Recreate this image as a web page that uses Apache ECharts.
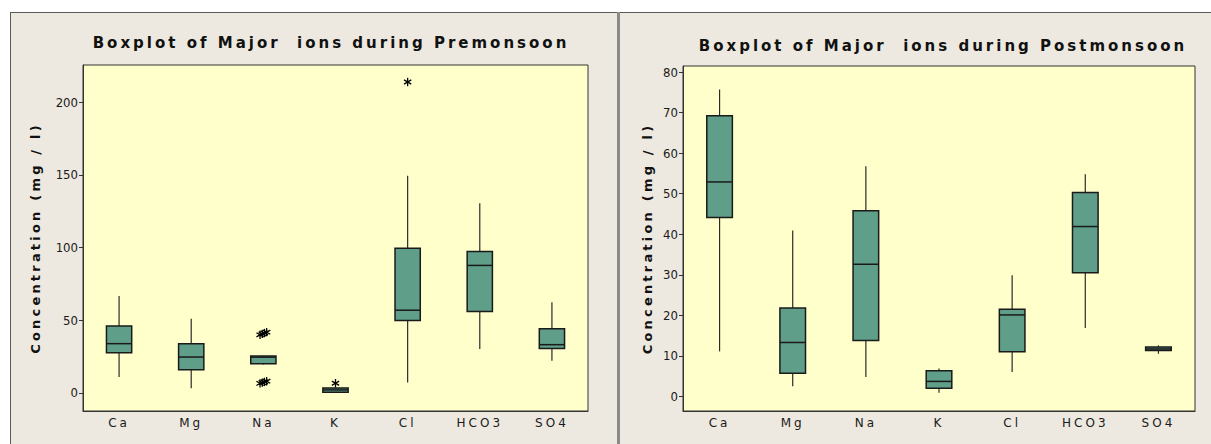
<!DOCTYPE html>
<html>
<head>
<meta charset="utf-8">
<script src="https://cdn.jsdelivr.net/npm/echarts@6/dist/echarts.min.js"></script>
<style>
  html, body { margin: 0; padding: 0; background: #ffffff; }
  #wrap { position: relative; width: 1211px; height: 444px; overflow: hidden; }
  .panel { position: absolute; top: 12px; height: 432px; background: #EDE9E0; border-top: 1px solid #5a5a5a; }
  #pl { left: 10px; width: 607px; border-left: 1px solid #5a5a5a; }
  #sep { position: absolute; left: 617px; top: 12px; width: 3px; height: 432px; background: #8a8a8a; }
  #pr { left: 620px; width: 591px; }
  .chart { position: absolute; top: 0; height: 444px; }
  #cl { left: 0; width: 617px; }
  #cr { left: 619px; width: 592px; }
  .chart text[style*="Verdana"], .chart text[font-family*="Verdana"] { letter-spacing: 3px; }
  .chart text[style*="Tahoma"], .chart text[font-family*="Tahoma"] { letter-spacing: 3.2px; }
</style>
</head>
<body>
<div id="wrap">
  <div class="panel" id="pl"></div>
  <div id="sep"></div>
  <div class="panel" id="pr"></div>
  <div class="chart" id="cl"></div>
  <div class="chart" id="cr"></div>
</div>
<script>
// ---------- data ----------
const categories = ['Ca', 'Mg', 'Na', 'K', 'Cl', 'HCO3', 'SO4'];

// Premonsoon (mg/l)
const preMin    = [10.9,  3.3, 19.5, 0.0,   7.2, 30.2, 22.1];
const preQ1     = [27.7, 15.9, 20.1, 0.5,  49.8, 56.0, 30.6];
const preMedian = [33.9, 24.7, 24.6, 2.1,  56.9, 87.7, 33.2];
const preQ3     = [46.1, 33.9, 25.4, 3.5,  99.5, 97.2, 44.2];
const preMax    = [66.6, 51.1, 25.6, 3.5, 149.4, 130.5, 62.4];
const preOutlierCats   = [2, 2, 2, 2, 2, 2, 2, 2, 3, 4];
const preOutlierValues = [40.0, 40.6, 41.2, 41.8, 6.6, 7.1, 7.6, 8.1, 6.7, 213.8];

// Postmonsoon (mg/l)
const postMin    = [11.1,  2.5,  4.8, 0.9,  6.0, 16.9, 10.5];
const postQ1     = [44.1,  5.7, 13.8, 2.0, 11.0, 30.5, 11.3];
const postMedian = [52.9, 13.3, 32.6, 3.7, 20.1, 41.9, 11.7];
const postQ3     = [69.2, 21.8, 45.8, 6.3, 21.5, 50.3, 12.2];
const postMax    = [75.7, 40.9, 56.8, 6.9, 29.9, 54.8, 12.6];

// axis ticks
const preTicks  = [0, 50, 100, 150, 200];
const postTicks = [0, 10, 20, 30, 40, 50, 60, 70, 80];

// ---------- helpers ----------
const SPACED = 'Verdana, DejaVu Sans';
const SPACED_B = 'Tahoma, DejaVu Sans';
const NUMFONT = 'DejaVu Sans Condensed, Liberation Sans Narrow, DejaVu Sans';
const BOX_FILL = '#5F9E89';
const INK = '#1a1a1a';

function boxRows(mn, q1, md, q3, mx) {
  return categories.map((c, i) => [i, mn[i], q1[i], md[i], q3[i], mx[i]]);
}

function outlierRows(cats, vals) {
  const rows = cats.map((c, i) => ({ c, v: vals[i] }));
  return rows.map((r) => {
    const group = rows.filter(o => o.c === r.c && Math.abs(o.v - r.v) <= 3)
                      .map(o => o.v).sort((a, b) => a - b);
    const rank = group.indexOf(r.v);
    return [r.c, r.v, rank - (group.length - 1) / 2];
  });
}

function renderBox(params, api) {
  const c = api.value(0);
  const pMin = api.coord([c, api.value(1)]);
  const pQ1  = api.coord([c, api.value(2)]);
  const pMd  = api.coord([c, api.value(3)]);
  const pQ3  = api.coord([c, api.value(4)]);
  const pMax = api.coord([c, api.value(5)]);
  const bw = api.size([1, 0])[0] * 0.35;
  const x = pMd[0];
  return {
    type: 'group',
    children: [
      { type: 'line', shape: { x1: x, y1: pMax[1], x2: x, y2: pQ3[1] }, style: { stroke: '#2a2a2a', lineWidth: 1.2 } },
      { type: 'line', shape: { x1: x, y1: pQ1[1], x2: x, y2: pMin[1] }, style: { stroke: '#2a2a2a', lineWidth: 1.2 } },
      { type: 'rect', shape: { x: x - bw / 2, y: pQ3[1], width: bw, height: Math.max(pQ1[1] - pQ3[1], 1) },
        style: { fill: BOX_FILL, stroke: INK, lineWidth: 1.5 } },
      { type: 'line', shape: { x1: x - bw / 2, y1: pMd[1], x2: x + bw / 2, y2: pMd[1] }, style: { stroke: INK, lineWidth: 1.5 } }
    ]
  };
}

function renderStar(params, api) {
  const p = api.coord([api.value(0), api.value(1)]);
  const x = p[0] + api.value(2) * 2.2;
  const y = p[1];
  const r = 4.2;
  const dx = r * Math.cos(Math.PI / 6), dy = r * Math.sin(Math.PI / 6);
  const st = { stroke: '#000', lineWidth: 1.3 };
  return {
    type: 'group',
    children: [
      { type: 'line', shape: { x1: x, y1: y - r, x2: x, y2: y + r }, style: st },
      { type: 'line', shape: { x1: x - dx, y1: y - dy, x2: x + dx, y2: y + dy }, style: st },
      { type: 'line', shape: { x1: x - dx, y1: y + dy, x2: x + dx, y2: y - dy }, style: st }
    ]
  };
}

function makeOption(cfg) {
  return {
    animation: false,
    backgroundColor: 'transparent',
    graphic: [{
      type: 'text', x: cfg.titleX, y: cfg.titleY, silent: true,
      style: { text: cfg.title, fontFamily: SPACED, fontWeight: 'bold', fontSize: 15,
               fill: '#111', textAlign: 'center', textVerticalAlign: 'middle' }
    }, {
      type: 'text', x: cfg.nameX, y: cfg.grid.top + cfg.grid.height / 2, rotation: Math.PI / 2, silent: true,
      style: { text: 'Concentration (mg / l)', fontFamily: SPACED_B, fontWeight: 'bold', fontSize: 13,
               fill: '#111', textAlign: 'center', textVerticalAlign: 'middle' }
    }],
    grid: {
      left: cfg.grid.left, top: cfg.grid.top, width: cfg.grid.width, height: cfg.grid.height,
      show: true, backgroundColor: '#FFFFCC', borderColor: '#333', borderWidth: 1
    },
    xAxis: {
      type: 'category', data: categories,
      axisLine: { onZero: false, lineStyle: { color: '#333', width: 1 } },
      axisTick: { alignWithLabel: true, length: 4, lineStyle: { color: '#333' } },
      axisLabel: { margin: 6, fontSize: 12, fontFamily: SPACED, color: '#1a1a1a' },
      splitLine: { show: false }
    },
    yAxis: {
      type: 'value', min: cfg.yMin, max: cfg.yMax,
      axisLine: { show: true, onZero: false, lineStyle: { color: '#333', width: 1 } },
      axisTick: { show: true, length: 4, customValues: cfg.ticks, lineStyle: { color: '#333' } },
      axisLabel: { customValues: cfg.ticks, margin: 5, fontSize: 13, fontFamily: NUMFONT, color: '#1a1a1a' },
      splitLine: { show: false }
    },
    series: cfg.series
  };
}

const left = echarts.init(document.getElementById('cl'), null, { renderer: 'svg' });
left.setOption(makeOption({
  title: 'Boxplot of Major  ions during Premonsoon', titleX: 331, titleY: 43,
  grid: { left: 83, top: 65, width: 505, height: 346 }, nameX: 35,
  yMin: -12.4, yMax: 225.5, ticks: preTicks,
  series: [
    { type: 'custom', renderItem: renderBox, encode: { x: 0, y: [1, 2, 3, 4, 5] },
      data: boxRows(preMin, preQ1, preMedian, preQ3, preMax), z: 2 },
    { type: 'custom', renderItem: renderStar, encode: { x: 0, y: 1 },
      data: outlierRows(preOutlierCats, preOutlierValues), z: 3 }
  ]
}));

const right = echarts.init(document.getElementById('cr'), null, { renderer: 'svg' });
right.setOption(makeOption({
  title: 'Boxplot of Major  ions during Postmonsoon', titleX: 324, titleY: 46,
  grid: { left: 64, top: 66, width: 512, height: 345 }, nameX: 28,
  yMin: -3.6, yMax: 81.5, ticks: postTicks,
  series: [
    { type: 'custom', renderItem: renderBox, encode: { x: 0, y: [1, 2, 3, 4, 5] },
      data: boxRows(postMin, postQ1, postMedian, postQ3, postMax), z: 2 }
  ]
}));
</script>
</body>
</html>
